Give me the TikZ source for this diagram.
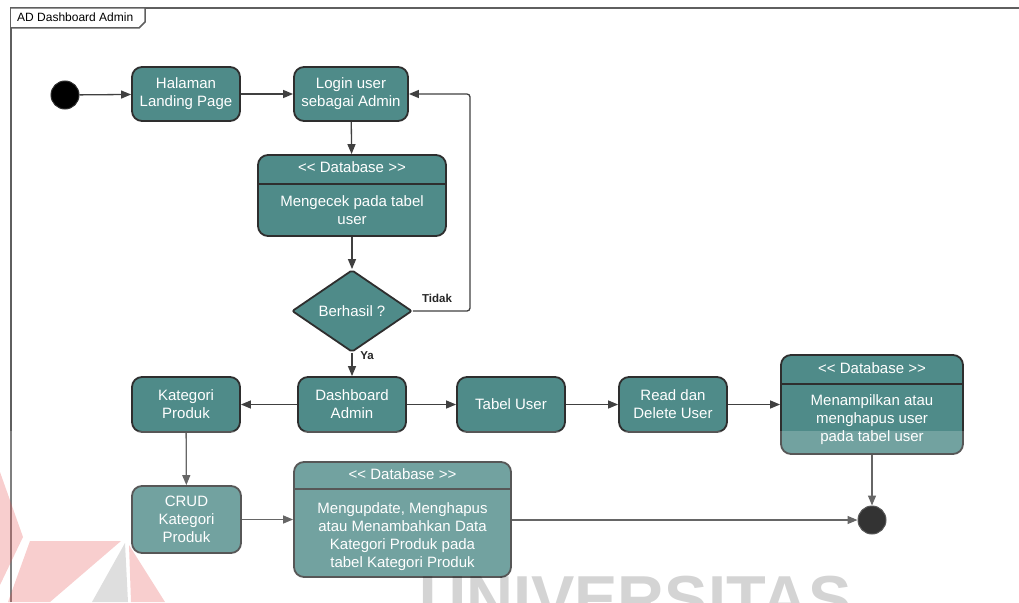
\documentclass[tikz,border=0pt]{standalone}
\usepackage{fontspec}
\setmainfont{Liberation Sans}
\usetikzlibrary{shapes.geometric,arrows.meta}
\definecolor{teal1}{RGB}{79,139,137}
\definecolor{bord}{RGB}{46,46,46}
\definecolor{arr}{RGB}{64,64,64}
\definecolor{frm}{RGB}{95,95,95}
\definecolor{wmred}{RGB}{230,80,80}
\begin{document}
\begin{tikzpicture}[x=1pt,y=-1pt,
  act/.style={draw=bord, line width=1.8pt, fill=teal1, rounded corners=10pt, text=white, align=center, font=\fontsize{15}{18}\selectfont, inner sep=0pt},
  dbline/.style={draw=bord, line width=1.8pt},
  txt/.style={text=white, align=center, font=\fontsize{15}{18}\selectfont, inner sep=0pt},
  flow/.style={draw=arr, line width=1.3pt, -{Triangle[length=10pt,width=8pt]}},
  lbl/.style={font=\bfseries\fontsize{11.5}{13}\selectfont, text=black!85, inner sep=0pt},
  dot/.style={circle, fill=black, draw=bord, line width=1pt, minimum size=28pt, inner sep=0pt}
]
\useasboundingbox (0,0) rectangle (1019,602);

% frame
\draw[frm, line width=2pt] (11,602) -- (11,8) -- (1019,8);
\draw[frm, line width=1.5pt, fill=white] (11,8) -- (145,8) -- (145,22) -- (139,28) -- (11,28);
\node[anchor=west, font=\fontsize{12}{14}\selectfont, inner sep=0pt] (ftitle) at (17,17.5) {AD Dashboard Admin};

% nodes
\node[dot] (start) at (65,95) {};
\node[act, minimum width=108pt, minimum height=54pt] (land) at (186,94) {Halaman\\Landing Page};
\node[act, minimum width=114pt, minimum height=54pt] (login) at (351,94) {Login user\\sebagai Admin};

\node[act, minimum width=188pt, minimum height=81pt] (db1) at (352,195.5) {};
\draw[dbline] ([yshift=-30pt]db1.north west) -- ([yshift=-30pt]db1.north east);
\node[txt] (db1h) at ([yshift=-13.5pt]db1.north) {<\kern0pt< Database >\kern0pt>};
\node[txt] (db1b) at ([yshift=-56pt]db1.north) {Mengecek pada tabel\\user};

\node[act, diamond, rounded corners=2pt, minimum width=120pt, minimum height=82pt] (dec) at (352,311) {Berhasil ?};

\node[act, minimum width=108pt, minimum height=55pt] (kat) at (186,404.5) {Kategori\\Produk};
\node[act, minimum width=108pt, minimum height=55pt] (dash) at (352,404.5) {Dashboard\\Admin};
\node[act, minimum width=108pt, minimum height=55pt] (tabel) at (511,404.5) {Tabel User};
\node[act, minimum width=108pt, minimum height=55pt] (read) at (673,404.5) {Read dan\\Delete User};

\node[act, minimum width=182pt, minimum height=99pt] (db2) at (872,404.5) {};
\draw[dbline] ([yshift=-30pt]db2.north west) -- ([yshift=-30pt]db2.north east);
\node[txt] (db2h) at ([yshift=-14pt]db2.north) {<\kern0pt< Database >\kern0pt>};
\node[txt] (db2b) at ([yshift=-66pt]db2.north) {Menampilkan atau\\menghapus user\\pada tabel user};

\node[act, minimum width=109pt, minimum height=67pt] (crud) at (186.5,519.5) {CRUD\\Kategori\\Produk};

\node[act, minimum width=217pt, minimum height=115pt] (db3) at (402.5,519.5) {};
\draw[dbline] ([yshift=-28pt]db3.north west) -- ([yshift=-28pt]db3.north east);
\node[txt] (db3h) at ([yshift=-13pt]db3.north) {<\kern0pt< Database >\kern0pt>};
\node[txt] (db3b) at ([yshift=-76pt]db3.north) {Mengupdate, Menghapus\\atau Menambahkan Data\\Kategori Produk pada\\tabel Kategori Produk};

\node[dot] (fin) at (872,520) {};

% connectors
\coordinate (turn) at (470,0);
\draw[flow] (start) -- (land);
\draw[flow] (land) -- (login);
\draw[flow] (login) -- (db1);
\draw[flow] (db1) -- (dec);
\draw[flow, rounded corners=3pt] (dec.east) -- (dec.east -| turn) |- (login.east);
\draw[flow] (dec) -- (dash);
\draw[flow] (dash) -- (kat);
\draw[flow] (dash) -- (tabel);
\draw[flow] (tabel) -- (read);
\draw[flow] (read) -- (db2.west |- read.east);
\draw[flow] (db2) -- (fin);
\draw[flow] (kat) -- (crud);
\draw[flow] (crud) -- (db3.west |- crud.east);
\draw[flow] (db3.east |- fin.west) -- (fin);

\node[lbl, anchor=center] (tidak) at (437,298) {Tidak};
\node[lbl, anchor=center] (ya) at (367,356) {Ya};

% watermark overlay
\fill[white, opacity=0.2] (0,431) rectangle (1019,602);
\fill[wmred, opacity=0.28] (0,472) -- (23,537) -- (0,585) -- cycle;
\fill[wmred, opacity=0.28] (30,541) -- (121,541) -- (50,602) -- (8,602) -- cycle;
\fill[black, opacity=0.13] (125,543) -- (92,602) -- (128,602) -- cycle;
\fill[wmred, opacity=0.28] (129,545) -- (165,602) -- (131,602) -- cycle;
\node[anchor=base west, font=\bfseries\fontsize{65}{65}\selectfont, text=black, text opacity=0.17, inner sep=0pt] (wm) at (419,621) {UNIVERSITAS};
\end{tikzpicture}
\end{document}
